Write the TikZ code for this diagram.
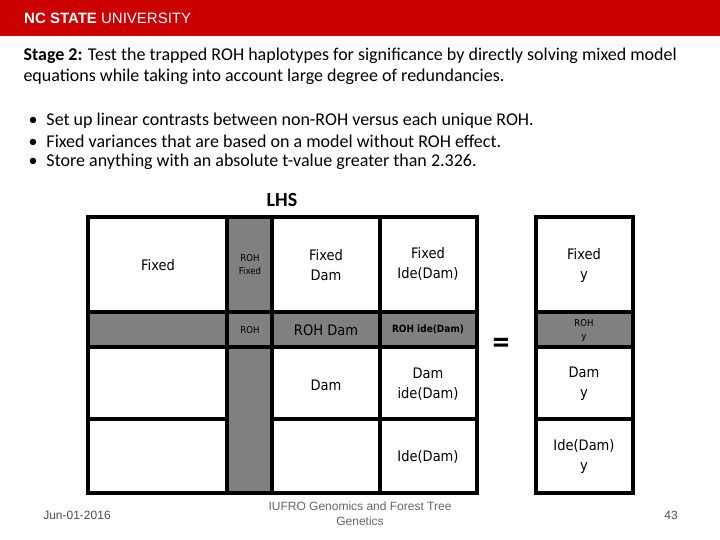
\documentclass[tikz,border=0pt]{standalone}
\usepackage{fontspec}
\setmainfont{Carlito}
\newfontfamily\arialf{Liberation Sans}
\newfontfamily\cellf{DejaVu Sans Condensed}
\definecolor{ncred}{HTML}{CC0000}
\definecolor{cellgray}{HTML}{808080}
\begin{document}
\begin{tikzpicture}[x=1pt,y=-1pt,
  cell/.style={draw=black,line width=3.5pt},
  gcell/.style={cell,fill=cellgray},
  ctext/.style={font=\cellf\fontsize{14.5}{20}\selectfont,align=center},
  stext/.style={font=\cellf\fontsize{9.5}{13}\selectfont,align=center},
  body/.style={anchor=west,font=\fontsize{18}{21}\selectfont}]
\useasboundingbox (0,0) rectangle (720,540);
\fill[ncred] (0,0) rectangle (720,36);
\node[anchor=west,text=white,font=\arialf\fontsize{15}{17}\selectfont,inner sep=0pt] (logo) at (24,18) {\textbf{NC STATE} UNIVERSITY};
\node[body] (l1) at (20,56) {\textbf{Stage 2:} Test the trapped ROH haplotypes for significance by directly solving mixed model};
\node[body] (l2) at (20,77) {equations while taking into account large degree of redundancies.};
\node[body] (b1) at (25,121) {\textbullet\hspace{9pt}Set up linear contrasts between non-ROH versus each unique ROH.};
\node[body] (b2) at (25,141) {\textbullet\hspace{9pt}Fixed variances that are based on a model without ROH effect.};
\node[body] (b3) at (25,162) {\textbullet\hspace{9pt}Store anything with an absolute t-value greater than 2.326.};
\node[font=\bfseries\fontsize{20}{22}\selectfont] (lhs) at (282,200) {LHS};
% gray fills
\fill[cellgray] (88,312) rectangle (477,347);
\fill[cellgray] (227,217) rectangle (272,493);
% col1
\draw[cell] (88,217) rectangle (227,312);
\draw[cell] (88,312) rectangle (227,347);
\draw[cell] (88,347) rectangle (227,419);
\draw[cell] (88,419) rectangle (227,493);
% col2
\draw[cell] (227,217) rectangle (272,312);
\draw[cell] (227,312) rectangle (272,347);
\draw[cell] (227,347) rectangle (272,493);
% col3
\draw[cell] (272,217) rectangle (380,312);
\draw[cell] (272,312) rectangle (380,347);
\draw[cell] (272,347) rectangle (380,419);
\draw[cell] (272,419) rectangle (380,493);
% col4
\draw[cell] (380,217) rectangle (477,312);
\draw[cell] (380,312) rectangle (477,347);
\draw[cell] (380,347) rectangle (477,419);
\draw[cell] (380,419) rectangle (477,493);
% right
\draw[cell] (536,217) rectangle (633,312);
\draw[gcell] (536,312) rectangle (633,347);
\draw[cell] (536,347) rectangle (633,419);
\draw[cell] (536,419) rectangle (633,493);
\node[ctext] (t11) at (158,265) {Fixed};
\node[stext] (t12) at (250,265) {ROH\\Fixed};
\node[ctext] (t13) at (326,265) {Fixed\\Dam};
\node[ctext] (t14) at (428,264) {Fixed\\Ide(Dam)};
\node[stext] (t22) at (250,330) {ROH};
\node[ctext] (t23) at (326,330) {ROH Dam};
\node[stext,font=\cellf\bfseries\fontsize{10}{12}\selectfont] (t24) at (428,329) {ROH ide(Dam)};
\node[ctext] (t33) at (326,385) {Dam};
\node[ctext] (t34) at (428,384) {Dam\\ide(Dam)};
\node[ctext] (t44) at (428,457) {Ide(Dam)};
\node[ctext] (r1) at (584,265) {Fixed\\y};
\node[stext] (r2) at (584,330) {ROH\\y};
\node[ctext] (r3) at (584,384) {Dam\\y};
\node[ctext] (r4) at (584,456) {Ide(Dam)\\y};
\node[font=\bfseries\fontsize{34}{34}\selectfont] (eq) at (501,346) {=};
\node[font=\arialf\fontsize{12}{14}\selectfont,text=black!70] (date) at (77,515) {Jun-01-2016};
\node[font=\arialf\fontsize{12}{15}\selectfont,text=black!60,align=center] (foot) at (360,514) {IUFRO Genomics and Forest Tree\\Genetics};
\node[font=\arialf\fontsize{12}{14}\selectfont,text=black!70] (pg) at (671,515) {43};
\end{tikzpicture}
\end{document}
